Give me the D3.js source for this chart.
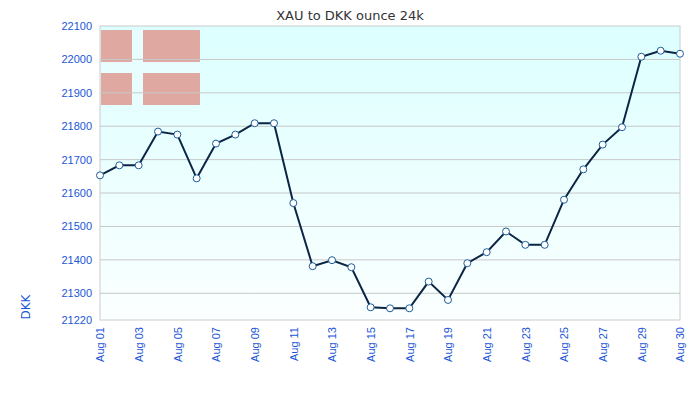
<!DOCTYPE html>
<html>
<head>
<meta charset="utf-8">
<script src="https://cdn.jsdelivr.net/npm/d3@7"></script>
<style>
body{margin:0;background:#fff;font-family:"DejaVu Sans",sans-serif;}
.axis text{fill:#1a56d6;font-size:11px;}
.axis path,.axis line{stroke:none;}
</style>
</head>
<body>
<script>
(function(){

//data
var values = [21653,21683,21683,21784,21775,21644,21748,21775,21809,21809,
              21570,21381,21399,21378,21258,21255,21255,21335,21280,21390,
              21423,21485,21445,21445,21580,21671,21745,21797,22008,22026,22017];
var tickIdx = [0,2,4,6,8,10,12,14,16,18,20,22,24,26,28,30];
var tickLabels = ["Aug 01","Aug 03","Aug 05","Aug 07","Aug 09","Aug 11","Aug 13","Aug 15",
                  "Aug 17","Aug 19","Aug 21","Aug 23","Aug 25","Aug 27","Aug 29","Aug 30"];
var yTicks = [21220,21300,21400,21500,21600,21700,21800,21900,22000,22100];

var left = 100, right = 680, top = 26, bottom = 320;

var svg = d3.select("body").append("svg")
    .attr("width", 700)
    .attr("height", 400);

var grad = svg.append("defs").append("linearGradient")
    .attr("id", "bg").attr("x1", 0).attr("y1", 0).attr("x2", 0).attr("y2", 1);
grad.append("stop").attr("offset", "0%").attr("stop-color", "#dcffff");
grad.append("stop").attr("offset", "100%").attr("stop-color", "#fbffff");

var x = d3.scaleLinear().domain([0, values.length - 1]).range([left, right]);
var y = d3.scaleLinear().domain([21220, 22100]).range([bottom, top]);

svg.append("rect")
    .attr("x", left).attr("y", top)
    .attr("width", right - left).attr("height", bottom - top)
    .attr("fill", "url(#bg)")
    .attr("stroke", "#ccc");

//flag
var flag = svg.append("g");
flag.append("rect").attr("x", 101).attr("y", 30).attr("width", 99).attr("height", 75).attr("fill", "#dfa8a0");
flag.append("rect").attr("x", 132).attr("y", 30).attr("width", 11).attr("height", 75).attr("fill", "#e8fdfd");
flag.append("rect").attr("x", 101).attr("y", 62).attr("width", 99).attr("height", 11).attr("fill", "#e8fdfd");

//grid
svg.selectAll(".grid").data(yTicks.slice(1, -1)).enter().append("line")
    .attr("x1", left).attr("x2", right)
    .attr("y1", function(d){ return y(d); }).attr("y2", function(d){ return y(d); })
    .attr("stroke", "#c8c8c8");

var yAxis = d3.axisLeft(y).tickValues(yTicks).tickFormat(d3.format("d")).tickSize(0).tickPadding(8);
svg.append("g").attr("class", "axis").attr("transform", "translate(" + left + ",0)").call(yAxis);

var xAxis = d3.axisBottom(x).tickValues(tickIdx)
    .tickFormat(function(d, i){ return tickLabels[i]; }).tickSize(0);
svg.append("g").attr("class", "axis").attr("transform", "translate(0," + bottom + ")").call(xAxis)
    .selectAll("text")
    .attr("transform", "rotate(-90)")
    .attr("text-anchor", "end")
    .attr("x", -7).attr("y", 0).attr("dy", "0.35em");

var line = d3.line()
    .x(function(d, i){ return x(i); })
    .y(function(d){ return y(d); });

svg.append("path").datum(values)
    .attr("d", line)
    .attr("fill", "none")
    .attr("stroke", "#0b2545")
    .attr("stroke-width", 2);

svg.selectAll(".pt").data(values).enter().append("circle")
    .attr("cx", function(d, i){ return x(i); })
    .attr("cy", function(d){ return y(d); })
    .attr("r", 3.5)
    .attr("fill", "#fff")
    .attr("stroke", "#1b5d9a")
    .attr("stroke-width", 1);

svg.append("text").attr("x", 350).attr("y", 20).attr("text-anchor", "middle")
    .style("font-size", "13px").style("fill", "#333").text("XAU to DKK ounce 24k");

svg.append("text").attr("transform", "translate(30,307) rotate(-90)")
    .attr("text-anchor", "middle")
    .style("font-size", "12px").style("fill", "#1a56d6").text("DKK");

})();
</script>
</body>
</html>
